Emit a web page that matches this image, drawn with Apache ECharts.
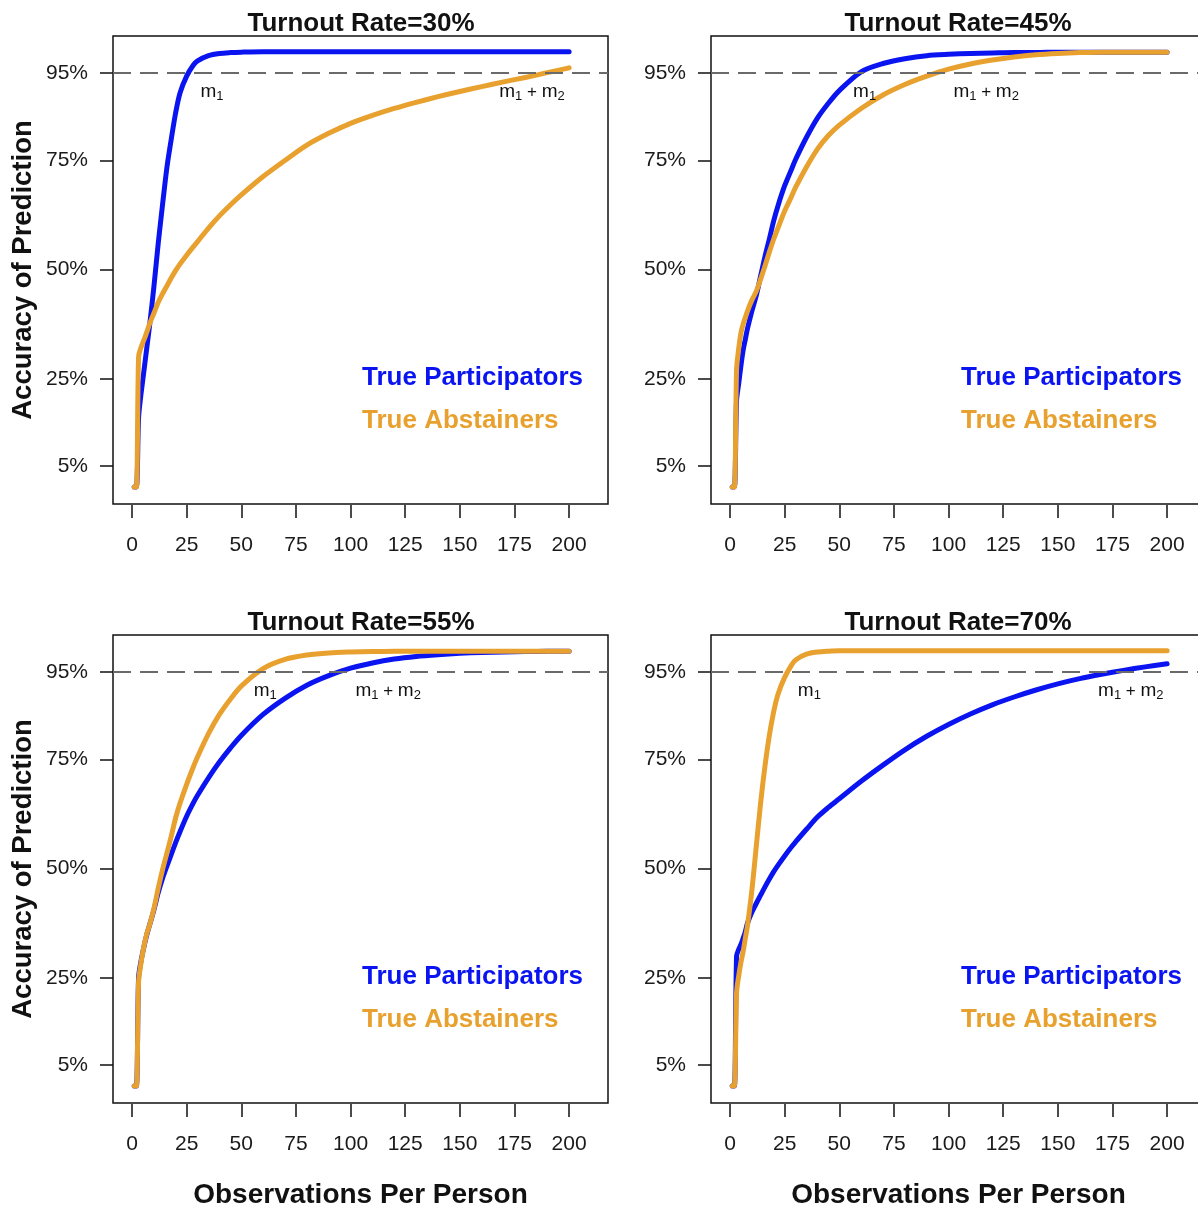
<!DOCTYPE html>
<html>
<head>
<meta charset="utf-8">
<script src="https://cdn.jsdelivr.net/npm/echarts@6.0.0/dist/echarts.min.js"></script>
<style>
  html, body { margin: 0; padding: 0; background: #ffffff; }
  #chart { width: 1198px; height: 1205px; }
</style>
</head>
<body>
<div id="chart"></div>
<script>
// ---------------- data ----------------
const panelTitles = ['Turnout Rate=30%', 'Turnout Rate=45%', 'Turnout Rate=55%', 'Turnout Rate=70%'];
const seriesNames = ['True Participators', 'True Abstainers'];
const xTickValues = [0, 25, 50, 75, 100, 125, 150, 175, 200];
const yTickValues = [5, 25, 50, 75, 95];
const thresholdPct = 95;

// observations per person (x)
const xObs = [1,2,3,4,5,6,7,8,10,12,14,16,18,20,22,25,28,30,35,40,45,50,60,70,80,90,100,110,120,130,140,150,160,170,180,190,200];

// accuracy of prediction (%) — Turnout 30%
const p30Participators = [0.2,0.2,16,21,25,29,33,37,46,56,65,73.5,80,86,90.5,94.3,96.8,97.8,99,99.5,99.7,99.8,99.9,99.9,99.9,99.9,99.9,99.9,99.9,99.9,99.9,99.9,99.9,99.9,99.9,99.9,99.9];
const p30Abstainers    = [0.2,0.2,30,32,33.3,34.6,36,37.5,40,42.5,44.5,46.3,48.1,49.8,51.3,53.3,55.2,56.4,59.5,62.3,64.8,67.1,71.3,75,78.5,81.2,83.5,85.3,86.9,88.3,89.6,90.8,91.9,93,94,95.1,96.2];
// Turnout 45%
const p45Participators = [0.2,0.2,20,24,28,31.5,34,36.5,40.5,44,48.5,53,57,61.2,64.7,69.2,72.8,75.2,80.3,84.7,88.1,91,95.3,97.2,98.3,99,99.3,99.5,99.6,99.7,99.7,99.8,99.8,99.8,99.8,99.8,99.8];
const p45Abstainers    = [0.2,0.2,27,32,35.5,37.5,39,40.5,43,45,47.8,50.8,54,57,59.6,63.4,66.6,68.8,73.5,77.6,80.7,83.1,86.9,90,92.4,94.3,95.9,97.1,98,98.7,99.2,99.5,99.7,99.8,99.8,99.8,99.8];
// Turnout 55%
const p55Participators = [0.2,0.2,25,28.5,31,33.3,35.3,37,40.5,44.5,47.8,50.6,53.3,56,58.5,62,65,66.8,70.8,74.4,77.6,80.5,85.3,89,92,94.2,95.9,97.1,98,98.6,99,99.3,99.5,99.6,99.7,99.8,99.8];
const p55Abstainers    = [0.2,0.2,24,28,31,33.5,35.5,37,40.8,45.5,49.8,53.6,57.5,61.7,65,69.3,73.2,75.6,80.9,85.3,88.8,91.8,95.8,97.9,98.9,99.4,99.6,99.7,99.8,99.8,99.8,99.8,99.8,99.8,99.8,99.8,99.8];
// Turnout 70%
const p70Participators = [0.2,0.2,30,31.5,32.6,34,35.5,37.5,40,42,43.9,45.8,47.6,49.3,50.8,52.9,54.9,56.1,59,61.8,64,66,70,73.7,77.2,80.3,83,85.4,87.5,89.3,90.9,92.3,93.5,94.5,95.4,96.2,96.9];
const p70Abstainers    = [0.2,0.2,21.5,25.5,28.5,31,34,37,45,55,65,73.5,80.5,86,90,93.8,96.5,97.8,99.1,99.6,99.8,99.9,99.9,99.9,99.9,99.9,99.9,99.9,99.9,99.9,99.9,99.9,99.9,99.9,99.9,99.9,99.9];

const participatorsByPanel = [p30Participators, p45Participators, p55Participators, p70Participators];
const abstainersByPanel    = [p30Abstainers, p45Abstainers, p55Abstainers, p70Abstainers];

// annotation anchors (data units: observations, accuracy %)
const m1Anchor   = [[36.6, 90.7], [61.6, 90.7], [61.0, 90.7], [36.3, 90.7]];
const m1m2Anchor = [[183.0, 90.7], [117.2, 90.7], [117.2, 90.7], [183.4, 90.7]];

// ---------------- layout / style ----------------
const FONT = '"Liberation Sans", Arial, Helvetica, sans-serif';
const BLUE = '#0a14f0';
const ORANGE = '#e8a12e';
const gridBoxes = [
  { left: 113, top: 36 }, { left: 711, top: 36 },
  { left: 113, top: 635 }, { left: 711, top: 635 }
];
const GW = 495, GH = 468;

const grids = gridBoxes.map(g => ({
  left: g.left, top: g.top, width: GW, height: GH,
  outerBoundsMode: 'none', containLabel: false,
  show: true, borderColor: '#111', borderWidth: 1.5, backgroundColor: 'transparent'
}));

const xAxes = gridBoxes.map((g, i) => ({
  type: 'value', gridIndex: i, min: -8.7, max: 217.8, offset: 1, position: 'bottom',
  axisLine: { show: false, onZero: false },
  splitLine: { show: false },
  axisTick: { show: true, inside: false, customValues: xTickValues, length: 13, lineStyle: { color: '#111', width: 1.5 } },
  axisLabel: { customValues: xTickValues, margin: 30, fontSize: 21, color: '#1a1a1a', fontFamily: FONT },
  name: i >= 2 ? 'Observations Per Person' : '',
  nameLocation: 'middle', nameGap: 77,
  nameTextStyle: { fontSize: 28, fontWeight: 'bold', color: '#111', fontFamily: FONT }
}));

const yAxes = gridBoxes.map((g, i) => ({
  type: 'value', gridIndex: i, min: -3.7, max: 103.5, position: 'left',
  axisLine: { show: false, onZero: false },
  splitLine: { show: false },
  axisTick: { show: true, inside: false, customValues: yTickValues, length: 13, lineStyle: { color: '#111', width: 1.5 } },
  axisLabel: { customValues: yTickValues, formatter: '{value}%', margin: 25, fontSize: 21, color: '#1a1a1a', fontFamily: FONT, padding: [4, 0, 0, 0] },
  name: (i % 2 === 0) ? 'Accuracy of Prediction' : '',
  nameLocation: 'middle', nameGap: 76, nameRotate: 90,
  nameTextStyle: { fontSize: 27.5, fontWeight: 'bold', color: '#111', fontFamily: FONT }
}));

const richStyles = {
  m: { fontSize: 19, color: '#111', fontFamily: FONT },
  s: { fontSize: 13, color: '#111', fontFamily: FONT, verticalAlign: 'bottom', padding: [9, 0, 0, 0] },
  p: { fontSize: 17, color: '#111', fontFamily: FONT }
};

const series = [];
for (let i = 0; i < 4; i++) {
  series.push({
    name: seriesNames[0], type: 'line', xAxisIndex: i, yAxisIndex: i,
    data: xObs.map((x, k) => [x, participatorsByPanel[i][k]]),
    showSymbol: false, symbol: 'none', animation: false,
    smooth: 0.3,
    lineStyle: { color: BLUE, width: 5, cap: 'round', join: 'round' },
    itemStyle: { color: BLUE },
    z: 2,
    markLine: {
      silent: true, animation: false, symbol: ['none', 'none'],
      label: { show: false },
      lineStyle: { color: '#6a6a6a', width: 2, type: [18, 9] },
      data: [{ yAxis: thresholdPct }]
    }
  });
  series.push({
    name: seriesNames[1], type: 'line', xAxisIndex: i, yAxisIndex: i,
    data: xObs.map((x, k) => [x, abstainersByPanel[i][k]]),
    showSymbol: false, symbol: 'none', animation: false,
    smooth: 0.3,
    lineStyle: { color: ORANGE, width: 5, cap: 'round', join: 'round' },
    itemStyle: { color: ORANGE },
    z: 3,
    markPoint: {
      silent: true, animation: false, symbol: 'circle', symbolSize: 0,
      label: { show: true, position: 'inside', color: '#111', rich: richStyles },
      data: [
        { coord: m1Anchor[i], label: { formatter: '{m|m}{s|1}' } },
        { coord: m1m2Anchor[i], label: { formatter: '{m|m}{s|1}{p| + }{m|m}{s|2}' } }
      ]
    }
  });
}

const titleCenters = [[361, 11], [958, 11], [361, 610], [958, 610]];
const titles = titleCenters.map((c, i) => ({
  text: panelTitles[i], left: c[0], top: c[1], textAlign: 'center', padding: 0,
  textStyle: { fontSize: 26, fontWeight: 'bold', color: '#111', fontFamily: FONT }
}));

const legendPos = [[357, 365], [956, 365], [357, 964], [956, 964]];
const legends = legendPos.map(p => ({
  left: p[0], top: p[1], orient: 'vertical', itemGap: 17, padding: 0,
  itemWidth: 0, itemHeight: 0, icon: 'rect', selectedMode: false,
  textStyle: { fontSize: 26, fontWeight: 'bold', fontFamily: FONT },
  data: [
    { name: seriesNames[0], textStyle: { color: BLUE } },
    { name: seriesNames[1], textStyle: { color: ORANGE } }
  ]
}));

const chart = echarts.init(document.getElementById('chart'), null, { renderer: 'canvas' });
chart.setOption({
  backgroundColor: '#ffffff',
  animation: false,
  title: titles,
  legend: legends,
  grid: grids,
  xAxis: xAxes,
  yAxis: yAxes,
  series: series
});
</script>
</body>
</html>
